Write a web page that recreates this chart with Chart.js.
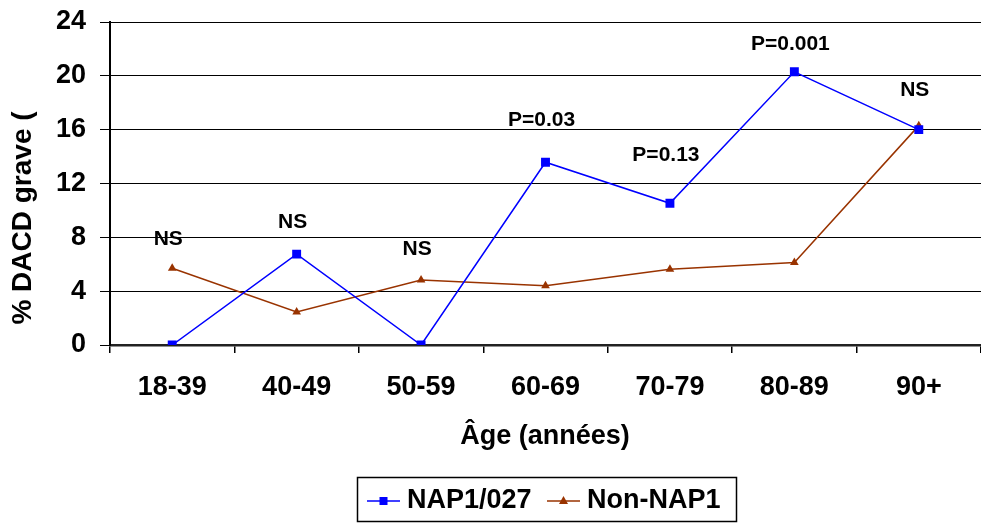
<!DOCTYPE html>
<html>
<head>
<meta charset="utf-8">
<script src="https://cdn.jsdelivr.net/npm/chart.js@4/dist/chart.umd.min.js"></script>
<style>
html,body{margin:0;padding:0;background:#fff;}
canvas{display:block;}
</style>
</head>
<body>
<canvas id="c" width="981" height="529"></canvas>
<script>
const categories = ['18-39','40-49','50-59','60-69','70-79','80-89','90+'];
const nap1 = [0, 6.75, 0, 13.58, 10.53, 20.3, 16.0];
const nonNap1 = [5.7, 2.45, 4.83, 4.4, 5.62, 6.13, 16.3];
const annotTexts = ['NS','NS','NS','P=0.03','P=0.13','P=0.001','NS'];
const annotLevels = [7.84, 9.14, 7.13, 16.72, 14.12, 22.33, 18.91];
const yTitle = '% DACD grave (';
const xTitle = 'Âge (années)';
const seriesNames = ['NAP1/027','Non-NAP1'];

const FONT = '"Liberation Sans", Arial, sans-serif';
const BLUE = '#0000FF';
const BROWN = '#993300';

const overlay = {
  id: 'overlay',
  afterDraw(chart) {
    const ctx = chart.ctx;
    const x = chart.scales.x, y = chart.scales.y;
    ctx.save();
    ctx.fillStyle = '#000';
    ctx.font = 'bold 21px ' + FONT;
    ctx.textAlign = 'center';
    ctx.textBaseline = 'middle';
    annotTexts.forEach((t, i) => {
      ctx.fillText(t, x.getPixelForValue(i) - 4, y.getPixelForValue(annotLevels[i]));
    });
    ctx.font = 'bold 28px ' + FONT;
    ctx.save();
    ctx.translate(23, 218);
    ctx.rotate(-Math.PI / 2);
    ctx.fillText(yTitle, 0, 0);
    ctx.restore();
    ctx.font = 'bold 27px ' + FONT;
    ctx.fillText(xTitle, 545, 437);
    ctx.lineWidth = 1.5;
    ctx.strokeStyle = '#000';
    ctx.strokeRect(357.5, 477.5, 379, 44);
    const items = [
      {name: seriesNames[0], color: BLUE, x0: 367, tx: 407, shape: 'rect'},
      {name: seriesNames[1], color: BROWN, x0: 547, tx: 587, shape: 'tri'}
    ];
    items.forEach(it => {
      const ly = 501;
      ctx.strokeStyle = it.color;
      ctx.lineWidth = 1.5;
      ctx.beginPath();
      ctx.moveTo(it.x0, ly);
      ctx.lineTo(it.x0 + 33, ly);
      ctx.stroke();
      ctx.fillStyle = it.color;
      const cx = it.x0 + 16.5;
      if (it.shape === 'rect') {
        ctx.fillRect(cx - 4, ly - 4, 8, 8);
      } else {
        ctx.beginPath();
        ctx.moveTo(cx, ly - 5);
        ctx.lineTo(cx + 4.5, ly + 3);
        ctx.lineTo(cx - 4.5, ly + 3);
        ctx.closePath();
        ctx.fill();
      }
      ctx.fillStyle = '#000';
      ctx.font = 'bold 27px ' + FONT;
      ctx.textAlign = 'left';
      ctx.fillText(it.name, it.tx, ly);
    });
    ctx.restore();
  }
};

new Chart(document.getElementById('c'), {
  type: 'line',
  data: {
    labels: categories,
    datasets: [
      {
        label: seriesNames[0], data: nap1,
        borderColor: BLUE, backgroundColor: BLUE, borderWidth: 1.5,
        pointStyle: 'rect', pointRadius: 6.3, pointBorderWidth: 0, tension: 0
      },
      {
        label: seriesNames[1], data: nonNap1,
        borderColor: BROWN, backgroundColor: BROWN, borderWidth: 1.5,
        pointStyle: 'triangle', pointRadius: 5, pointBorderWidth: 0, tension: 0
      }
    ]
  },
  options: {
    responsive: false,
    animation: false,
    layout: {autoPadding: false, padding: {top: 22, right: 0, bottom: 64, left: 0}},
    plugins: {legend: {display: false}, tooltip: {enabled: false}},
    scales: {
      x: {
        offset: true,
        grid: {offset: true, drawOnChartArea: false, drawTicks: true, tickLength: 8, color: '#000', lineWidth: 1.5},
        border: {color: '#222', width: 2.5},
        ticks: {color: '#000', font: {family: FONT, size: 27, weight: 'bold'}, padding: 18, maxRotation: 0, autoSkip: false},
        afterFit(s) { s.height = 120; s.paddingLeft = 0; s.paddingRight = 0; }
      },
      y: {
        min: 0, max: 24,
        grid: {color: '#000', lineWidth: 1, tickLength: 10},
        border: {color: '#000', width: 2},
        ticks: {stepSize: 4, color: '#000', font: {family: FONT, size: 27, weight: 'bold'}, padding: 14},
        afterFit(s) { s.width = 110; s.paddingTop = 0; s.paddingBottom = 0; }
      }
    }
  },
  plugins: [overlay]
});
</script>
</body>
</html>
